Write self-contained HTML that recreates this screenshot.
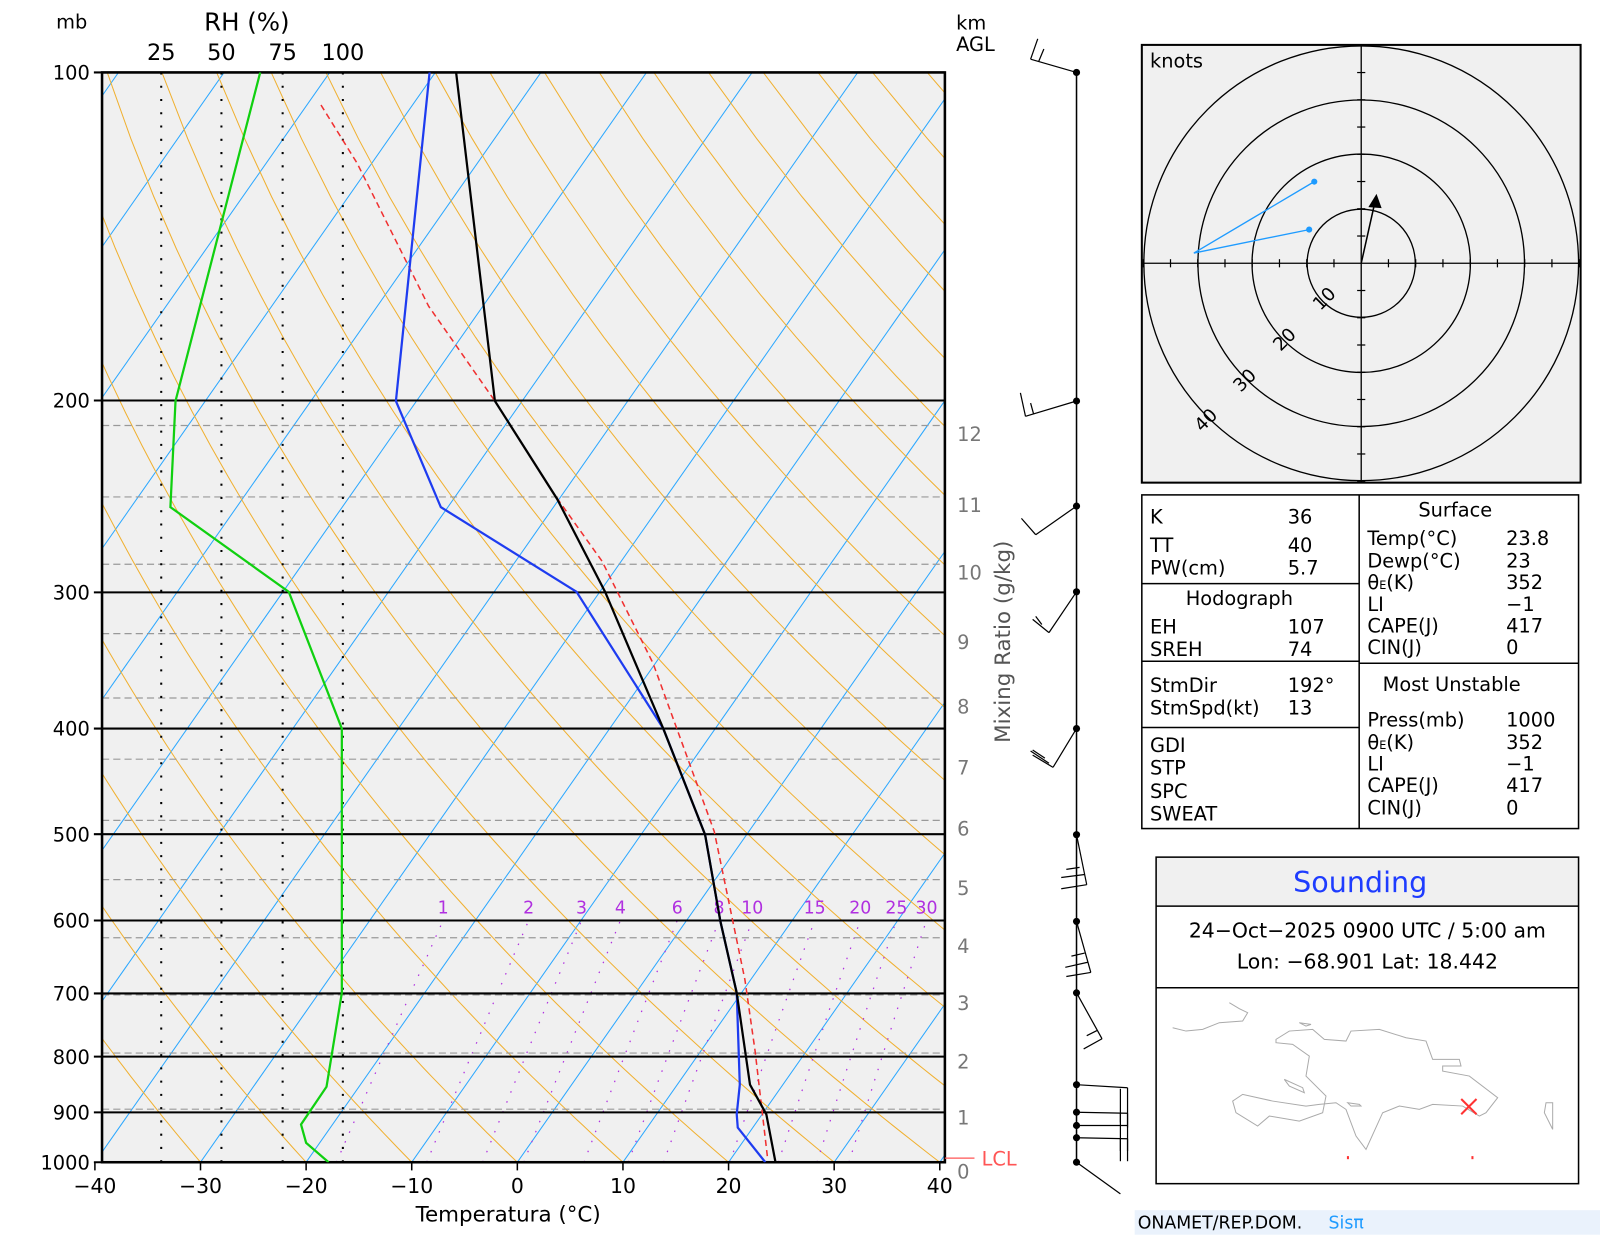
<!DOCTYPE html>
<html><head><meta charset="utf-8"><style>
html,body{margin:0;padding:0;background:#fff;overflow:hidden;}
svg{display:block;font-family:"DejaVu Sans","Liberation Sans",sans-serif;}
</style></head><body>
<svg id="s" width="1600" height="1236" viewBox="0 0 1600 1236" xmlns="http://www.w3.org/2000/svg">
<defs><clipPath id="pc"><rect x="100" y="71" width="826" height="1068"/></clipPath></defs>
<g transform="scale(1.0204)">
<rect x="100" y="71" width="826" height="1068" fill="#f0f0f0"/>
<g id="bg" clip-path="url(#pc)"></g>
<g id="fg"></g>
<rect x="1119" y="44" width="430" height="429" fill="#f0f0f0" stroke="#000" stroke-width="2"/>
<g fill="none" stroke="#000" stroke-width="1.3">
<circle cx="1334" cy="258" r="53"/><circle cx="1334" cy="258" r="107"/><circle cx="1334" cy="258" r="160"/><circle cx="1334" cy="258" r="213"/>
<line x1="1119" y1="258" x2="1549" y2="258"/><line x1="1334" y1="44" x2="1334" y2="473"/>
</g>
<g id="hticks" stroke="#000" stroke-width="1.2"></g>
<text x="1127" y="66" font-size="19">knots</text>
<g font-size="18" fill="#000">
<text transform="translate(1294,305) rotate(-45)">10</text>
<text transform="translate(1255,345) rotate(-45)">20</text>
<text transform="translate(1216,385) rotate(-45)">30</text>
<text transform="translate(1178,424) rotate(-45)">40</text>
</g>
<polyline points="1288,178 1170,248 1283,225" fill="none" stroke="#1e9bff" stroke-width="1.3"/>
<circle cx="1288" cy="178" r="3" fill="#1e9bff"/><circle cx="1283" cy="225" r="3" fill="#1e9bff"/>
<line x1="1334" y1="258" x2="1347" y2="200" stroke="#000" stroke-width="1.5"/>
<polygon points="1349,190 1341,203 1354,204" fill="#000"/>
<g fill="none" stroke="#000" stroke-width="1.5">
<rect x="1119" y="485" width="428" height="327"/>
<line x1="1332" y1="485" x2="1332" y2="812"/>
<line x1="1119" y1="572" x2="1332" y2="572"/>
<line x1="1119" y1="648" x2="1332" y2="648"/>
<line x1="1119" y1="713" x2="1332" y2="713"/>
<line x1="1332" y1="650" x2="1547" y2="650"/>
</g>
<g font-size="19" fill="#000">
<text x="1127" y="513">K</text><text x="1262" y="513">36</text>
<text x="1127" y="541">TT</text><text x="1262" y="541">40</text>
<text x="1127" y="563">PW(cm)</text><text x="1262" y="563">5.7</text>
<text x="1162" y="593">Hodograph</text>
<text x="1127" y="621">EH</text><text x="1262" y="621">107</text>
<text x="1127" y="643">SREH</text><text x="1262" y="643">74</text>
<text x="1127" y="678">StmDir</text><text x="1262" y="678">192°</text>
<text x="1127" y="700">StmSpd(kt)</text><text x="1262" y="700">13</text>
<text x="1127" y="737">GDI</text><text x="1127" y="759">STP</text><text x="1127" y="782">SPC</text><text x="1127" y="804">SWEAT</text>
<text x="1390" y="506">Surface</text>
<text x="1340" y="534">Temp(°C)</text><text x="1476" y="534">23.8</text>
<text x="1340" y="556">Dewp(°C)</text><text x="1476" y="556">23</text>
<text x="1340" y="577">θ<tspan font-size="11">E</tspan>(K)</text><text x="1476" y="577">352</text>
<text x="1340" y="599">LI</text><text x="1476" y="599">−1</text>
<text x="1340" y="620">CAPE(J)</text><text x="1476" y="620">417</text>
<text x="1340" y="641">CIN(J)</text><text x="1476" y="641">0</text>
<text x="1355" y="677">Most Unstable</text>
<text x="1340" y="712">Press(mb)</text><text x="1476" y="712">1000</text>
<text x="1340" y="734">θ<tspan font-size="11">E</tspan>(K)</text><text x="1476" y="734">352</text>
<text x="1340" y="755">LI</text><text x="1476" y="755">−1</text>
<text x="1340" y="776">CAPE(J)</text><text x="1476" y="776">417</text>
<text x="1340" y="798">CIN(J)</text><text x="1476" y="798">0</text>
</g>
<rect x="1133" y="840" width="414" height="48" fill="#f0f0f0"/>
<g fill="none" stroke="#000" stroke-width="1.5">
<rect x="1133" y="840" width="414" height="320"/>
<line x1="1133" y1="888" x2="1547" y2="888"/><line x1="1133" y1="968" x2="1547" y2="968"/>
</g>
<text x="1333" y="874" font-size="28" fill="#1e3cff" text-anchor="middle">Sounding</text>
<text x="1340" y="919" font-size="20" text-anchor="middle">24−Oct−2025 0900 UTC / 5:00 am</text>
<text x="1340" y="949" font-size="20" text-anchor="middle">Lon: −68.901    Lat: 18.442</text>
<g transform="translate(1110,950) scale(0.3267)" fill="none" stroke="#aaa" stroke-width="3">
<path d="M430,210 L470,185 540,180 575,210 640,215 655,185 740,180 820,205 880,215 900,270 980,270 985,290 930,290 930,305 1010,320 1095,385 1060,430 1040,440 990,410 900,405 860,420 800,410 750,430 700,540 670,500 640,420 610,400 560,405 520,410 420,395 330,375 300,395 310,430 375,470 410,440 500,455 570,430 580,380 520,320 530,260 480,225 430,220Z"/>
<path d="M120,175 L160,185 210,180 260,160 330,155 345,130 320,118 290,100"/>
<path d="M455,330 L510,355 515,370 470,350Z"/><path d="M500,160 L535,165 520,170Z"/>
<path d="M1240,400 L1260,400 1260,480 1235,430Z"/>
<path d="M645,400 L680,405 685,410 655,410Z"/>
</g>
<g stroke="#f33" stroke-width="2"><line x1="1432" y1="1077" x2="1447" y2="1092"/><line x1="1447" y1="1077" x2="1432" y2="1092"/></g>
<rect x="1320" y="1133" width="2" height="3" fill="#f33"/><rect x="1442" y="1133" width="2" height="3" fill="#f33"/>
<rect x="1112" y="1186" width="488" height="24" fill="#eaf2fc"/>
<text x="1115" y="1204" font-size="17">ONAMET/REP.DOM.</text>
<text x="1302" y="1204" font-size="17" fill="#1e9bff">Sisπ</text>
</g>
<script>
(function(){
const NS="http://www.w3.org/2000/svg";
const bg=document.getElementById('bg'), fg=document.getElementById('fg');
function el(p,tag,a,txt){const e=document.createElementNS(NS,tag);for(const k in a)e.setAttribute(k,a[k]);if(txt!==undefined)e.textContent=txt;p.appendChild(e);return e;}
const Y=p=>71+(Math.log(p/100)/Math.log(10))*1068;
const X=(T,p)=>507+10.35*T+0.70*(1139-Y(p));
for(let T=-160;T<=60;T+=10){el(bg,'line',{x1:X(T,1050),y1:Y(1050),x2:X(T,95),y2:Y(95),stroke:'#2aa7ff','stroke-width':1});}
for(let th=-40;th<=250;th+=10){let pts=[];for(let p=1000;p>=95;p-=15){const T=(th+273.15)*Math.pow(p/1000,0.286)-273.15;pts.push(X(T,p).toFixed(1)+','+Y(p).toFixed(1));}
el(bg,'polyline',{points:pts.join(' '),fill:'none',stroke:'#f0b030','stroke-width':1});}
const ws=[1,2,3,4,6,8,10,15,20,25,30];
ws.forEach(w=>{let pts=[];for(let p=1000;p>=600;p-=10){const e=w*p/(622+w);const Td=243.5*Math.log(e/6.112)/(17.67-Math.log(e/6.112));pts.push(X(Td,p).toFixed(1)+','+Y(p).toFixed(1));}
el(bg,'polyline',{points:pts.join(' '),fill:'none',stroke:'#b030e0','stroke-width':1.2,'stroke-dasharray':'1.5,9'});
const e=w*600/(622+w);const Td=243.5*Math.log(e/6.112)/(17.67-Math.log(e/6.112));
el(fg,'text',{x:X(Td,600),y:895,'font-size':17,fill:'#b030e0','text-anchor':'middle'},String(w));});
const hy=[417,487,553,621,684,744,804,862,919,975,1032,1087];
hy.forEach((y,i)=>{el(bg,'line',{x1:100,y1:y,x2:926,y2:y,stroke:'#999','stroke-width':1.2,'stroke-dasharray':'7,4'});
el(fg,'text',{x:938,y:y+15,'font-size':19,fill:'#777'},String(12-i));});
el(fg,'text',{x:938,y:1155,'font-size':19,fill:'#777'},'0');
[158,217,277,336].forEach(x=>el(bg,'line',{x1:x,y1:71,x2:x,y2:1139,stroke:'#000','stroke-width':2,'stroke-dasharray':'2,11'}));
[100,200,300,400,500,600,700,800,900,1000].forEach(p=>{const y=Y(p);el(fg,'line',{x1:92,y1:y,x2:926,y2:y,stroke:'#000','stroke-width':2});
el(fg,'text',{x:88,y:y+7,'font-size':19,'text-anchor':'end'},String(p));});
el(fg,'rect',{x:100,y:71,width:826,height:1068,fill:'none',stroke:'#000','stroke-width':2.5});
const pl=(pts,c,w,d)=>el(fg,'polyline',{points:pts,fill:'none',stroke:c,'stroke-width':w,'stroke-dasharray':d||'none','clip-path':'url(#pc)'});
pl('322,1139 300,1120 295,1102 320,1065 335,973 335,714 283,580 167,497 172,393 255,71','#10d010',2.2);
pl('752,1133 740,1030 730,960 700,815 640,650 590,550 540,480 485,393 420,300 350,160 314,102','#f03030',1.5,'6,4');
pl('750,1139 723,1105 722,1092 725,1063 722,973 706,903 691,818 650,714 565,580 432,497 388,393 421,71','#1e3cf0',2.2);
pl('760,1139 751,1092 735,1063 722,973 706,903 691,818 650,714 593,580 546,489 485,393 447,71','#000',2.2);
el(fg,'line',{x1:926,y1:1135,x2:955,y2:1135,stroke:'#f55','stroke-width':1.2});
el(fg,'text',{x:962,y:1142,'font-size':19,fill:'#f55'},'LCL');
for(let T=-40;T<=40;T+=10){const x=507+10.35*T;el(fg,'line',{x1:x,y1:1139,x2:x,y2:1147,stroke:'#000','stroke-width':1.5});
el(fg,'text',{x:x,y:1169,'font-size':20,'text-anchor':'middle'},(T<0?'−':'')+Math.abs(T));}
el(fg,'text',{x:498,y:1197,'font-size':21,'text-anchor':'middle'},'Temperatura (°C)');
el(fg,'text',{x:55,y:28,'font-size':19},'mb');
el(fg,'text',{x:200,y:30,'font-size':24},'RH (%)');
[[158,'25'],[217,'50'],[277,'75'],[336,'100']].forEach(a=>el(fg,'text',{x:a[0],y:59,'font-size':22,'text-anchor':'middle'},a[1]));
el(fg,'text',{x:937,y:29,'font-size':19},'km');
el(fg,'text',{x:937,y:50,'font-size':19},'AGL');
el(fg,'text',{transform:'translate(990,728) rotate(-90)','font-size':21,fill:'#555'},'Mixing Ratio (g/kg)');
el(fg,'line',{x1:1055,y1:71,x2:1055,y2:1139,stroke:'#000','stroke-width':1.5});
[71,393,496,580,714,818,903,973,1063,1090,1103,1115,1139].forEach(y=>el(fg,'circle',{cx:1055,cy:y,r:3.5,fill:'#000'}));
const L=(a,b,c,d)=>el(fg,'line',{x1:a,y1:b,x2:c,y2:d,stroke:'#000','stroke-width':1.2});
L(1055,71,1010,58);L(1010,58,1017,38);L(1018,60,1023,48);
L(1055,393,1005,408);L(1005,408,1000,385);L(1013,406,1010,395);
L(1055,496,1015,524);L(1015,524,1001,508);
L(1055,580,1028,620);L(1028,620,1012,607);L(1021,612,1015,604);
L(1055,714,1032,752);L(1032,752,1012,740);L(1028,748,1010,736);L(1024,743,1012,735);
L(1055,818,1065,867);L(1065,867,1040,871);L(1063,857,1040,860);L(1058,850,1045,852);
L(1055,903,1069,953);L(1069,953,1045,957);L(1066,943,1044,948);L(1063,934,1050,937);
L(1055,973,1080,1018);L(1080,1018,1062,1028);L(1075,1010,1065,1015);
L(1055,1063,1105,1066);L(1105,1066,1105,1105);L(1098,1067,1098,1100);
L(1055,1090,1105,1091);L(1105,1091,1105,1128);L(1098,1091,1098,1128);
L(1055,1103,1105,1103);L(1055,1115,1105,1116);L(1105,1116,1105,1138);L(1098,1116,1098,1138);
L(1055,1139,1098,1170);
const ht=document.getElementById('hticks');
for(let i=-8;i<=8;i++){if(!i)continue;const d=i*26.7;
el(ht,'line',{x1:1334+d,y1:254,x2:1334+d,y2:262});el(ht,'line',{x1:1330,y1:258+d,x2:1338,y2:258+d});}
})();
</script>
</svg>
</body></html>
